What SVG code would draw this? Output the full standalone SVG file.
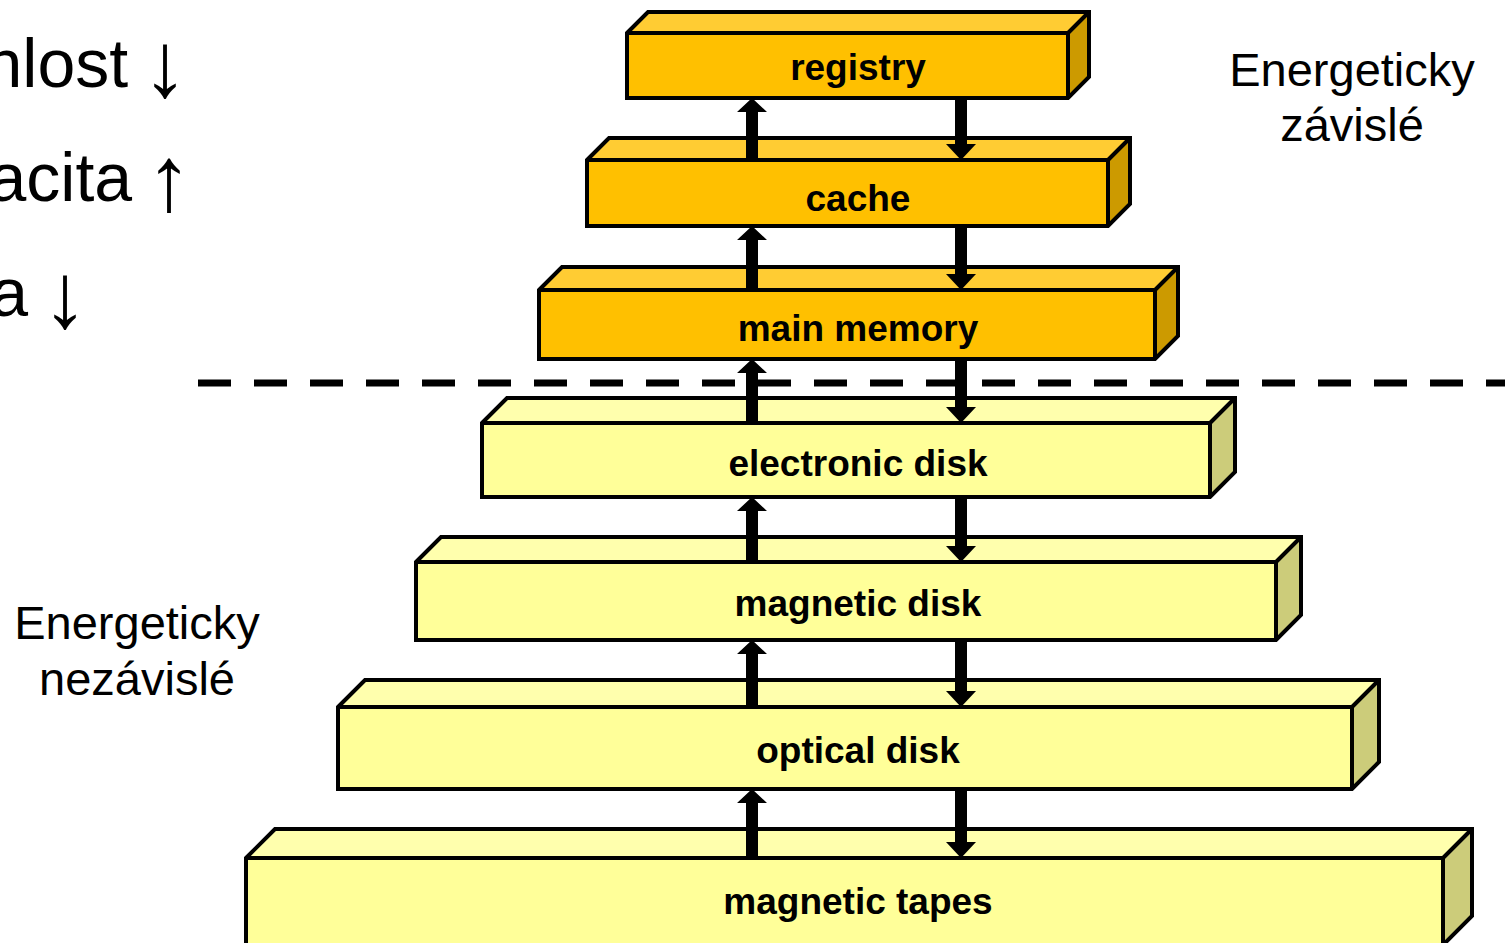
<svg xmlns="http://www.w3.org/2000/svg" width="1505" height="943" viewBox="0 0 1505 943">
<style>
.lbl{font-family:"Liberation Sans",Arial,sans-serif;font-weight:bold;font-size:37px;fill:#000;text-anchor:middle}
.big{font-family:"Liberation Sans",Arial,sans-serif;font-size:68px;fill:#000;text-anchor:end}
.ar{font-size:92px}
.note{font-family:"Liberation Sans",Arial,sans-serif;font-size:47px;fill:#000;text-anchor:middle}
.edge{fill:none;stroke:#000;stroke-width:4;stroke-linejoin:miter}
.of{fill:#FFC000}.ot{fill:#FFCC33}.os{fill:#CC9A00}
.yf{fill:#FFFF99}.yt{fill:#FFFFAD}.ys{fill:#CCCC7A}
.arr{fill:#000}
</style>
<rect width="1505" height="943" fill="#fff"/>
<text class="big" x="188" y="87"><tspan>hlost </tspan><tspan class="ar" dx="-5" dy="9">↓</tspan></text>
<text class="big" x="192" y="201"><tspan>acita </tspan><tspan class="ar" dx="-5" dy="9">↑</tspan></text>
<text class="big" x="88" y="316"><tspan>a </tspan><tspan class="ar" dx="-5" dy="11">↓</tspan></text>
<text class="note" x="1352" y="86">Energeticky</text>
<text class="note" x="1352" y="141">závislé</text>
<text class="note" x="137" y="639">Energeticky</text>
<text class="note" x="137" y="695">nezávislé</text>
<line x1="198" y1="383" x2="1505" y2="383" stroke="#000" stroke-width="7" stroke-dasharray="33 23"/>
<g id="registry">
<polygon class="ot" points="627,33 648,12 1089,12 1068,33"/>
<polygon class="os" points="1068,33 1089,12 1089,77 1068,98"/>
<rect class="of" x="627" y="33" width="441" height="65"/>
<path class="edge" d="M627,33 L648,12 L1089,12 L1089,77 L1068,98 L627,98 Z M627,33 L1068,33 L1068,98 M1068,33 L1089,12"/>
<text class="lbl" x="858" y="80">registry</text>
</g>
<g id="cache">
<polygon class="ot" points="587,160 609,138 1130,138 1108,160"/>
<polygon class="os" points="1108,160 1130,138 1130,204 1108,226"/>
<rect class="of" x="587" y="160" width="521" height="66"/>
<path class="edge" d="M587,160 L609,138 L1130,138 L1130,204 L1108,226 L587,226 Z M587,160 L1108,160 L1108,226 M1108,160 L1130,138"/>
<text class="lbl" x="858" y="211">cache</text>
</g>
<g id="main-memory">
<polygon class="ot" points="539,290 562,267 1178,267 1155,290"/>
<polygon class="os" points="1155,290 1178,267 1178,336 1155,359"/>
<rect class="of" x="539" y="290" width="616" height="69"/>
<path class="edge" d="M539,290 L562,267 L1178,267 L1178,336 L1155,359 L539,359 Z M539,290 L1155,290 L1155,359 M1155,290 L1178,267"/>
<text class="lbl" x="858" y="341">main memory</text>
</g>
<g id="electronic-disk">
<polygon class="yt" points="482,423 507,398 1235,398 1210,423"/>
<polygon class="ys" points="1210,423 1235,398 1235,472 1210,497"/>
<rect class="yf" x="482" y="423" width="728" height="74"/>
<path class="edge" d="M482,423 L507,398 L1235,398 L1235,472 L1210,497 L482,497 Z M482,423 L1210,423 L1210,497 M1210,423 L1235,398"/>
<text class="lbl" x="858" y="476">electronic disk</text>
</g>
<g id="magnetic-disk">
<polygon class="yt" points="416,562 441,537 1301,537 1276,562"/>
<polygon class="ys" points="1276,562 1301,537 1301,615 1276,640"/>
<rect class="yf" x="416" y="562" width="860" height="78"/>
<path class="edge" d="M416,562 L441,537 L1301,537 L1301,615 L1276,640 L416,640 Z M416,562 L1276,562 L1276,640 M1276,562 L1301,537"/>
<text class="lbl" x="858" y="616">magnetic disk</text>
</g>
<g id="optical-disk">
<polygon class="yt" points="338,707 365,680 1379,680 1352,707"/>
<polygon class="ys" points="1352,707 1379,680 1379,762 1352,789"/>
<rect class="yf" x="338" y="707" width="1014" height="82"/>
<path class="edge" d="M338,707 L365,680 L1379,680 L1379,762 L1352,789 L338,789 Z M338,707 L1352,707 L1352,789 M1352,707 L1379,680"/>
<text class="lbl" x="858" y="763">optical disk</text>
</g>
<g id="magnetic-tapes">
<polygon class="yt" points="246,858 275,829 1472,829 1443,858"/>
<polygon class="ys" points="1443,858 1472,829 1472,916 1443,945"/>
<rect class="yf" x="246" y="858" width="1197" height="90"/>
<path class="edge" d="M246,858 L275,829 L1472,829 L1472,916 L1443,945 L246,945 Z M246,858 L1443,858 L1443,945 M1443,858 L1472,829"/>
<text class="lbl" x="858" y="914">magnetic tapes</text>
</g>
<g id="connectors">
<polygon class="arr" points="752,98 767,112 758,112 758,160 746,160 746,112 737,112"/>
<polygon class="arr" points="961,160 976,144 967,144 967,98 955,98 955,144 946,144"/>
<polygon class="arr" points="752,226 767,240 758,240 758,290 746,290 746,240 737,240"/>
<polygon class="arr" points="961,290 976,274 967,274 967,226 955,226 955,274 946,274"/>
<polygon class="arr" points="752,359 767,373 758,373 758,423 746,423 746,373 737,373"/>
<polygon class="arr" points="961,423 976,407 967,407 967,359 955,359 955,407 946,407"/>
<polygon class="arr" points="752,497 767,511 758,511 758,562 746,562 746,511 737,511"/>
<polygon class="arr" points="961,562 976,546 967,546 967,497 955,497 955,546 946,546"/>
<polygon class="arr" points="752,640 767,654 758,654 758,707 746,707 746,654 737,654"/>
<polygon class="arr" points="961,707 976,691 967,691 967,640 955,640 955,691 946,691"/>
<polygon class="arr" points="752,789 767,803 758,803 758,858 746,858 746,803 737,803"/>
<polygon class="arr" points="961,858 976,842 967,842 967,789 955,789 955,842 946,842"/>
</g>
</svg>
